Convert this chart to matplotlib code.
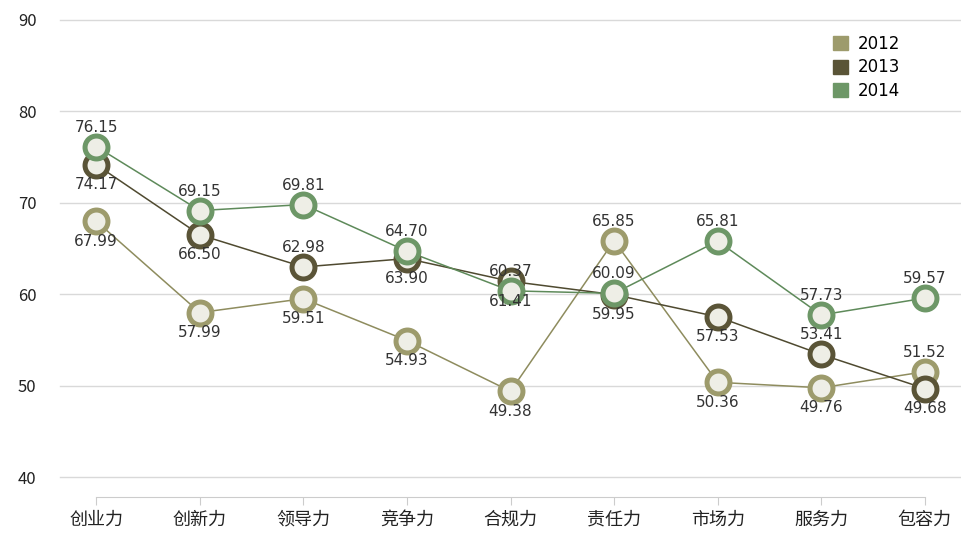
import numpy as np
import matplotlib
matplotlib.use('Agg')
import matplotlib.pyplot as plt
from matplotlib.patches import Patch

plt.rcParams['font.family'] = ['Noto Sans CJK SC', 'DejaVu Sans']

categories = ['创业力', '创新力', '领导力', '竞争力', '合规力', '责任力', '市场力', '服务力', '包容力']
years = ['2012', '2013', '2014']
v2012 = [67.99, 57.99, 59.51, 54.93, 49.38, 65.85, 50.36, 49.76, 51.52]
v2013 = [74.17, 66.50, 62.98, 63.90, 61.41, 59.95, 57.53, 53.41, 49.68]
v2014 = [76.15, 69.15, 69.81, 64.70, 60.37, 60.09, 65.81, 57.73, 59.57]
y_ticks = [40, 50, 60, 70, 80, 90]

# label placement: 'a' above marker, 'b' below
place2012 = ['b', 'b', 'b', 'b', 'b', 'a', 'b', 'b', 'a']
place2013 = ['b', 'b', 'a', 'b', 'b', 'b', 'b', 'a', 'b']
place2014 = ['a', 'a', 'a', 'a', 'a', 'a', 'a', 'a', 'a']

line_cols = ['#8e8c5e', '#4f4a30', '#5e8a5a']
edge_cols = ['#9d9b6c', '#5a5437', '#6d9767']

fig = plt.figure(figsize=(9.61, 5.4), dpi=100)
ax = fig.add_axes([60 / 961, 1 - 477 / 540, 1 - 60 / 961, (477 - 20) / 540])

x = np.arange(len(categories))
series = [v2012, v2013, v2014]
places = [place2012, place2013, place2014]
for vals, pl, lc, ec in zip(series, places, line_cols, edge_cols):
    ax.plot(x, vals, color=lc, lw=1.1, zorder=3)
    ax.plot(x, vals, ls='none', marker='o', ms=16.5, mew=3.6, mec=ec,
            mfc='#eeeee6', zorder=4)
    for xi, v, p in zip(x, vals, pl):
        off = 14 if p == 'a' else -14.5
        ax.annotate('%.2f' % v, (xi, v), xytext=(0, off), textcoords='offset points',
                    ha='center', va='center', fontsize=11, color='#333333',
                    family=['DejaVu Sans'], zorder=5)

ax.set_xlim(-0.35, 8.35)
ax.set_ylim(40, 90)
ax.set_yticks(y_ticks)
ax.set_xticks(x)
ax.set_xticklabels(categories)
ax.tick_params(axis='y', length=0, pad=17, labelsize=12, labelcolor='#222222')
ax.tick_params(axis='x', length=6, color='#cccccc', pad=4, labelsize=13,
               labelcolor='#222222')
ax.grid(axis='y', color='#d9d9d9', lw=1)
for gl in ax.get_ygridlines():
    gl.set_clip_on(False)
ax.set_axisbelow(True)
for s in ['top', 'right', 'left']:
    ax.spines[s].set_visible(False)
ax.spines['bottom'].set_position(('outward', 14.4))
ax.spines['bottom'].set_bounds(0, 8)
ax.spines['bottom'].set_color('#cccccc')

handles = [Patch(facecolor=c, edgecolor=c) for c in edge_cols]
ax.legend(handles, years, loc='upper left', bbox_to_anchor=(833 / 961, 1 - 35 / 540),
          bbox_transform=fig.transFigure, frameon=False, borderpad=0, borderaxespad=0,
          handlelength=0.9, handleheight=0.9, handletextpad=0.6, labelspacing=0.32,
          prop={'family': 'DejaVu Sans', 'size': 12})

fig.savefig('out.png', dpi=100)
